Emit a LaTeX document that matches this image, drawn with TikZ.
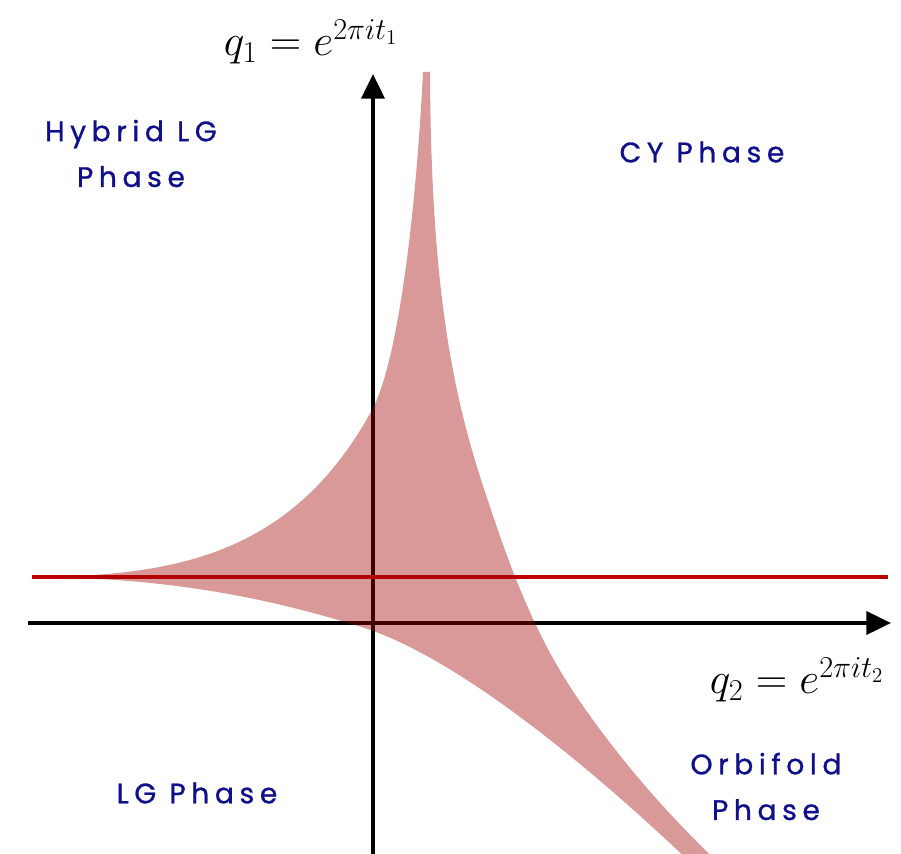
\documentclass[tikz,border=0pt]{standalone}
\usepackage{fontspec}
\newfontfamily\sketchfont[LetterSpace=20,FakeBold=1]{Poppins}
\usepackage{amsmath}
\usetikzlibrary{arrows.meta,positioning}
\definecolor{phaseblue}{RGB}{16,16,140}
\definecolor{amoebared}{RGB}{160,0,0}
\definecolor{lineared}{RGB}{192,0,0}
\tikzset{
  axis/.style={line width=2.3pt,-{Triangle[length=14pt,width=13pt]}},
  phase/.style={text=phaseblue,font=\sketchfont\fontsize{16}{26}\selectfont,align=center},
  varlabel/.style={font=\fontsize{26}{30}\selectfont}
}
\begin{document}
\begin{tikzpicture}
  \useasboundingbox (-7.46,-4.60) rectangle (10.56,12.46);
  % axes
  \coordinate (O) at (0,0);
  \coordinate (xl) at (-6.9,0);
  \coordinate (xr) at (10.36,0);
  \coordinate (yb) at (0,-4.7);
  \coordinate (yt) at (0,10.98);
  \draw[axis] (xl)--(xr);
  \draw[axis] (yb)--(yt);
  % the line
  \coordinate (rl) at (-6.82,0.92);
  \coordinate (rr) at (10.3,0.92);
  \draw[lineared,line width=2.3pt] (rl)--(rr);
  % amoeba
  \coordinate (L) at (-6.72,0.92);
  \coordinate (P) at (-0.02,4.26);
  \coordinate (T) at (1.00,11.02);
  \coordinate (T') at (1.14,11.02);
  \coordinate (J) at (2.27,2.53);
  \coordinate (K) at (4.07,-1.47);
  \coordinate (E) at (6.95,-4.84);
  \coordinate (S) at (6.40,-4.84);
  \coordinate (M) at (-0.26,-0.07);
  \fill[amoebared,fill opacity=0.4]
    (L) .. controls (-4.0,0.95) and (-1.62,1.33) .. (P)
        .. controls (0.48,5.18) and (0.85,8.02) .. (T)
    -- (T') .. controls (1.16,6.5) and (1.634,4.43) .. (J)
        .. controls (2.683,1.298) and (3.171,-0.147) .. (K)
        .. controls (4.969,-2.793) and (5.942,-3.874) .. (E)
    -- (S) .. controls (5.248,-3.736) and (2.034,-0.771) .. (M)
        .. controls (-1.694,0.368) and (-3.7,0.9) .. (L)
    -- cycle;
  % labels
  \node[varlabel] (q1) at (-1.24,11.62) {$q_1 = e^{2\pi i t_1}$};
  \node[varlabel] (q2) at (8.48,-1.14) {$q_2 = e^{2\pi i t_2}$};
  \node[phase] (hyb) at (-4.84,9.39) {Hybrid LG\\Phase};
  \node[phase] (cy) at (6.58,9.42) {CY Phase};
  \node[phase] (lg) at (-3.52,-3.40) {LG Phase};
  \node[phase] (orb) at (7.86,-3.27) {Orbifold\\Phase};
\end{tikzpicture}
\end{document}
